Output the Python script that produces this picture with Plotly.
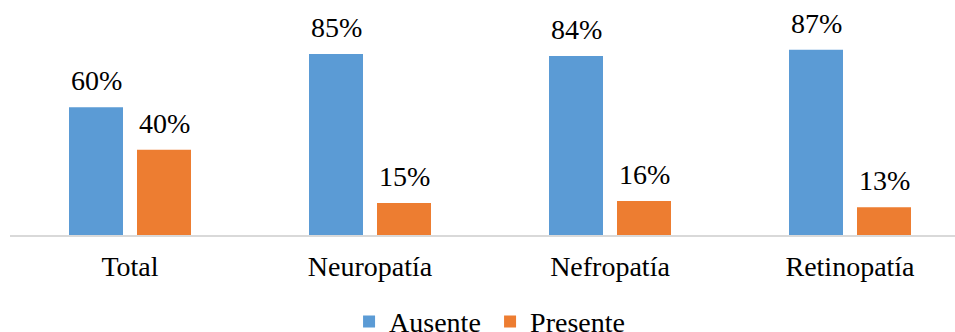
import plotly.graph_objects as go

categories = ["Total", "Neuropatía", "Nefropatía", "Retinopatía"]
ausente = [60, 85, 84, 87]
presente = [40, 15, 16, 13]
series_names = ["Ausente", "Presente"]
colors = ["#5B9BD5", "#ED7D31"]

FONT = "Times New Roman"

fig = go.Figure()
for name, vals, col in zip(series_names, [ausente, presente], colors):
    fig.add_trace(go.Bar(
        x=categories, y=vals, name=name,
        marker=dict(color=col, line=dict(width=0)),
    ))

# value labels above each bar (bars sit 34 px either side of the category centre)
for vals, shift in [(ausente, -34), (presente, 34)]:
    for c, v in zip(categories, vals):
        fig.add_annotation(
            x=c, y=v, text=f"{v}%", showarrow=False,
            xshift=shift, yanchor="bottom", yshift=9,
            font=dict(family=FONT, size=28, color="#000000"),
        )

fig.update_layout(
    width=955, height=332,
    margin=dict(l=10, r=0, t=22, b=97, autoexpand=False),
    paper_bgcolor="white", plot_bgcolor="white",
    barmode="group", bargap=0.4333, bargroupgap=0.206,
    font=dict(family=FONT, size=28, color="#000000"),
    showlegend=True,
    legend=dict(
        orientation="h", x=0.508, xanchor="center", y=-0.29, yanchor="top",
        entrywidth=96, entrywidthmode="pixels",
        font=dict(family=FONT, size=28, color="#000000"),
        traceorder="normal",
    ),
    xaxis=dict(
        range=[-0.5, 3.4375], showline=True, linecolor="#D9D9D9", linewidth=1.5,
        ticks="outside", ticklen=6, tickcolor="rgba(0,0,0,0)",
        showgrid=False, zeroline=False,
        tickfont=dict(family=FONT, size=28, color="#000000"),
    ),
    yaxis=dict(
        range=[0, 100], visible=False, showgrid=False, zeroline=False,
    ),
)

fig.write_html("out.html")
